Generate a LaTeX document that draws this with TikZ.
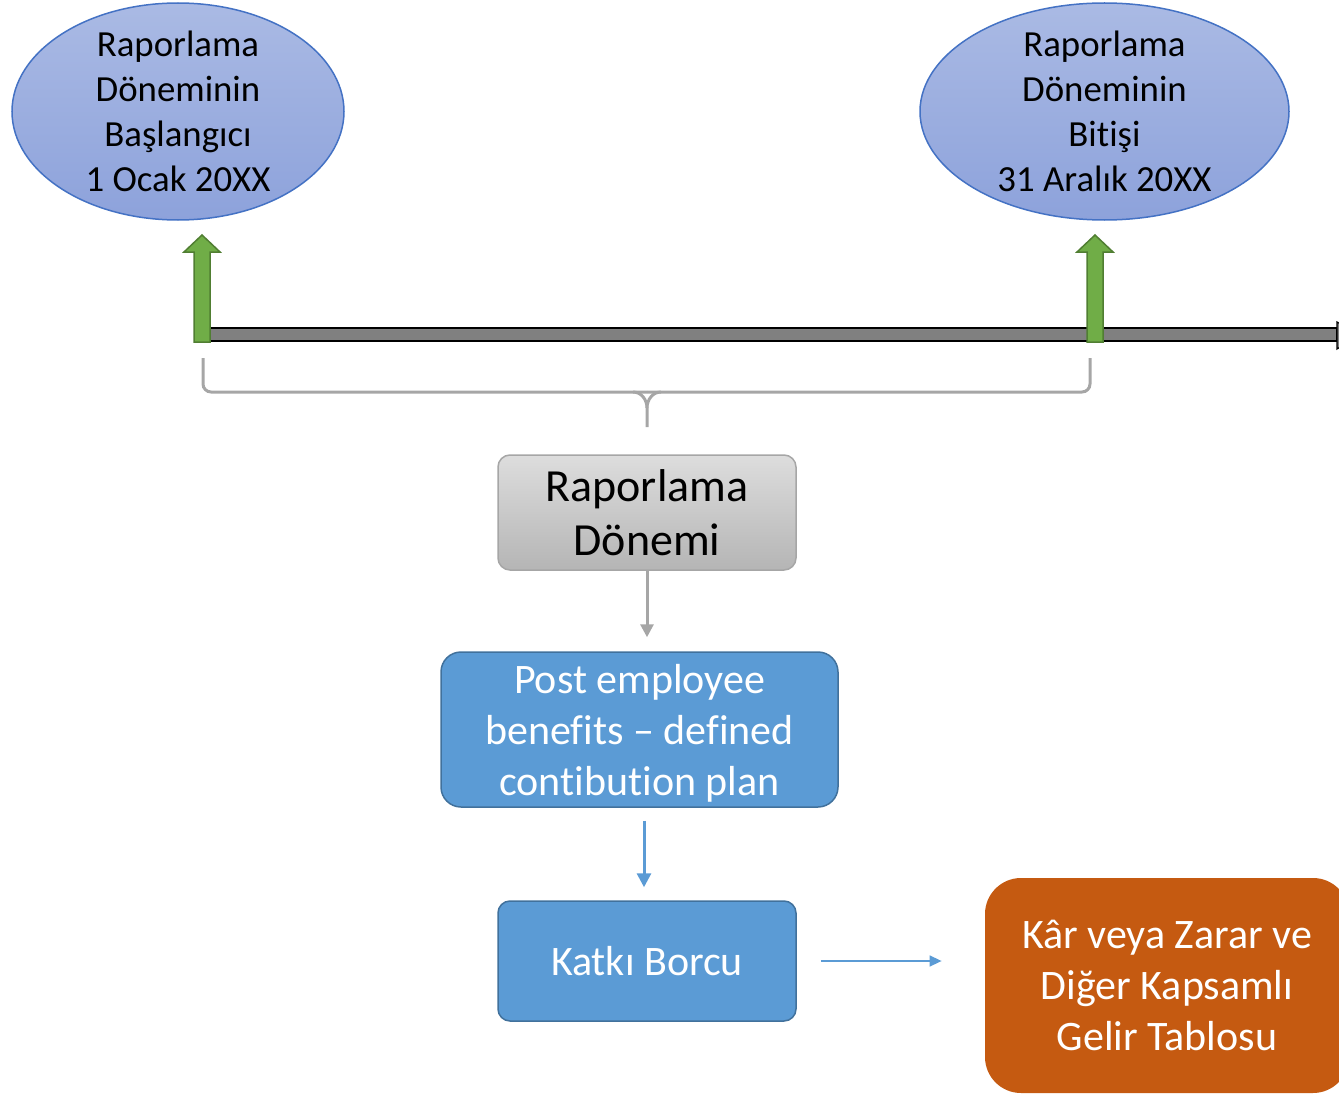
\documentclass[tikz,border=0pt]{standalone}
\usepackage{fontspec}
\setmainfont{Carlito}[Ligatures={NoCommon}]
\usetikzlibrary{shapes.geometric,arrows.meta}
\definecolor{elltop}{HTML}{AABAE4}
\definecolor{ellbot}{HTML}{8DA2DB}
\definecolor{ellline}{HTML}{4472C4}
\definecolor{grfill}{HTML}{70AD47}
\definecolor{grline}{HTML}{507E32}
\definecolor{bfill}{HTML}{5B9BD5}
\definecolor{bline}{HTML}{41719C}
\definecolor{ofill}{HTML}{C55A11}
\definecolor{bracegray}{HTML}{A6A6A6}
\definecolor{gtop}{HTML}{DDDDDD}
\definecolor{gbot}{HTML}{B5B5B5}
\newcommand{\nl}{\kern0pt }
\begin{document}
\begin{tikzpicture}[x=0.5pt,y=-0.5pt,
  ell/.style={ellipse, draw=ellline, line width=0.75pt, top color=elltop, bottom color=ellbot, inner sep=0pt},
  elltext/.style={align=center, inner sep=0pt, font=\fontsize{18.4}{22.5}\selectfont},
  greenarrow/.style={fill=grfill, draw=grline, line width=0.75pt, line join=miter},
  bluebox/.style={rectangle, fill=bfill, draw=bline, line width=0.75pt, text=white, align=center,
    inner sep=0pt, font=\fontsize{21}{25.5}\selectfont},
  bluetext/.style={text=white, align=center, inner sep=0pt, font=\fontsize{21}{25.5}\selectfont},
  graybox/.style={rectangle, rounded corners=6pt, draw=bracegray, line width=0.75pt, top color=gtop, bottom color=gbot,
    align=center, inner sep=0pt, font=\fontsize{23}{27}\selectfont},
  orangebox/.style={rectangle, rounded corners=18pt, fill=ofill, text=white, align=center,
    inner sep=0pt, font=\fontsize{21}{25.5}\selectfont},
  bracestyle/.style={draw=bracegray, line width=1.5pt, rounded corners=4pt},
  grayarrow/.style={draw=bracegray, line width=1.5pt, -{Triangle[width=6.5pt,length=6.5pt]}},
  bluearrow/.style={draw=bfill, line width=1.5pt, -{Triangle[width=7pt,length=7pt]}},
  thinarrow/.style={draw=bfill, line width=0.75pt, -{Triangle[width=5.5pt,length=6pt]}}
]
\useasboundingbox (0,0) rectangle (1339,1097);

% ellipses
\node[ell, minimum width=166pt, minimum height=108.5pt] (start) at (178,111.5) {};
\node[elltext] (startlbl) at (start.center) {Raporlama\\Döneminin\\Başlangıcı\\1 Ocak 20XX};
\node[ell, minimum width=184.5pt, minimum height=108.5pt] (end) at (1104.5,111.5) {};
\node[elltext] (endlbl) at (end.center) {Raporlama\\Döneminin\\Bitişi\\31 Aralık 20XX};

% timeline bar
\coordinate (barL) at (202,328);
\coordinate (barR) at (1337,341);
\draw[fill=gray, draw=black, line width=0.6pt] (barL) rectangle (barR);
\draw[fill=gray, draw=black, line width=0.6pt] (1337,322) -- (1360,334.5) -- (1337,349) -- cycle;

% green arrows
\foreach \cx in {202,1095}{
  \draw[greenarrow] (\cx-8,342) -- (\cx-8,252) -- (\cx-18,252) -- (\cx,235) -- (\cx+18,252)
    -- (\cx+8,252) -- (\cx+8,342) -- cycle;
}

% brace
\draw[bracestyle] (203,358) -- (203,392) -- (647,392);
\draw[bracestyle] (1090,358) -- (1090,392) -- (647,392);
\draw[draw=bracegray, line width=1.5pt] (633,392) to[out=0,in=90] (647,408) -- (647,427);
\draw[draw=bracegray, line width=1.5pt] (661,392) to[out=180,in=90] (647,408);

% boxes
\node[graybox, minimum width=149pt, minimum height=57.5pt] (donem) at (647,512.5)
  {Raporlama\\Dönemi};
\node[bluebox, rounded corners=10pt, minimum width=198.5pt, minimum height=77.5pt] (post) at (639.5,729.5) {};
\node[bluetext] (postlbl) at ([yshift=-2pt]post.center)
  {Post employee\\benef\nl its – def\nl ined\\cont\nl ibut\nl ion plan};
\node[bluebox, rounded corners=6pt, minimum width=149pt, minimum height=60pt] (katki) at (647,961)
  {Katkı Borcu};
\node[orangebox, minimum width=182pt, minimum height=107.5pt] (kar) at (1167,985.5)
  {Kâr veya Zarar ve\\Diğer Kapsamlı\\Gelir Tablosu};

% connectors
\draw[grayarrow, shorten >=7pt] (donem.south) -- (donem.south |- post.north);
\draw[bluearrow, shorten <=6.5pt, shorten >=6.5pt] (post.south -| katki.north) ++(-3,0) coordinate (pb) (pb) -- (pb |- katki.north);
\draw[thinarrow, shorten <=12pt, shorten >=21.5pt] (katki.east) -- (katki.east -| kar.west);
\end{tikzpicture}
\end{document}
